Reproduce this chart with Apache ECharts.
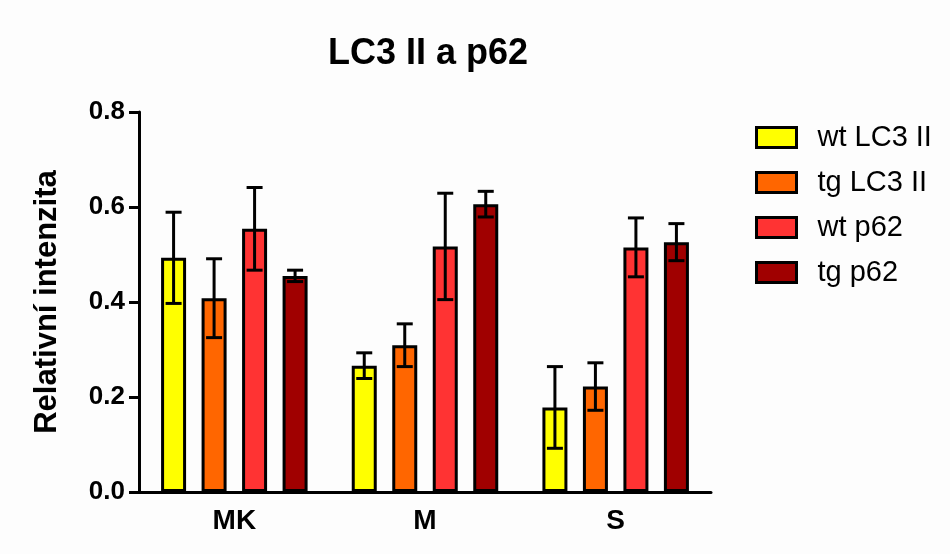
<!DOCTYPE html>
<html>
<head>
<meta charset="utf-8">
<script src="https://cdn.jsdelivr.net/npm/echarts@6/dist/echarts.min.js"></script>
<style>
  html, body { margin: 0; padding: 0; background: #fdfdfd; }
  #chart { width: 950px; height: 554px; }
</style>
</head>
<body>
<div id="chart"></div>
<script>
// data
const categories = ['MK', 'M', 'S'];
const seriesNames = ['wt LC3 II', 'tg LC3 II', 'wt p62', 'tg p62'];
const wtLC3 = [0.493, 0.266, 0.178];
const tgLC3 = [0.408, 0.309, 0.222];
const wtP62 = [0.554, 0.517, 0.515];
const tgP62 = [0.455, 0.606, 0.526];
// error bars (± SEM)
const wtLC3Err = [0.096, 0.027, 0.086];
const tgLC3Err = [0.083, 0.045, 0.050];
const wtP62Err = [0.087, 0.112, 0.062];
const tgP62Err = [0.012, 0.027, 0.039];
const yTicks = [0, 0.2, 0.4, 0.6, 0.8];

const means = [wtLC3, tgLC3, wtP62, tgP62];
const errs = [wtLC3Err, tgLC3Err, wtP62Err, tgP62Err];
const colors = ['#ffff00', '#ff6600', '#ff3333', '#a00000'];

const font = 'Arial, "Liberation Sans", Helvetica, sans-serif';
const barW = 25;      // inner width, border adds 3
const barStep = 40.5; // centre to centre inside a group
const capHalf = 8;

let seriesA = [];
for (let i = 0; i < 4; i++) {
  seriesA.push({
    name: seriesNames[i],
    type: 'bar',
    barWidth: barW,
    barGap: ((barStep - barW) / barW * 100) + '%',
    itemStyle: {
      color: colors[i],
      borderColor: '#000',
      borderWidth: 3
    },
    data: means[i]
  });
}
// error bars drawn on top of each bar
for (let i = 0; i < 4; i++) {
  const offset = (i - 1.5) * barStep;
  seriesA.push({
    name: 'err' + i,
    type: 'custom',
    z: 10,
    silent: true,
    data: categories.map((c, k) => [k, means[i][k] - errs[i][k], means[i][k] + errs[i][k]]),
    renderItem: function (params, api) {
      const lo = api.coord([api.value(0), api.value(1)]);
      const hi = api.coord([api.value(0), api.value(2)]);
      const x = lo[0] + offset;
      const style = { stroke: '#000', lineWidth: 3, fill: null };
      return {
        type: 'group',
        children: [
          { type: 'line', shape: { x1: x, y1: lo[1], x2: x, y2: hi[1] }, style: style },
          { type: 'line', shape: { x1: x - capHalf, y1: lo[1], x2: x + capHalf, y2: lo[1] }, style: style },
          { type: 'line', shape: { x1: x - capHalf, y1: hi[1], x2: x + capHalf, y2: hi[1] }, style: style }
        ]
      };
    }
  });
}

let option = {
  backgroundColor: '#fdfdfd',
  animation: false,
  title: {
    text: 'LC3 II a p62',
    left: 423,
    top: 31,
    textAlign: 'center',
    textStyle: { fontFamily: font, fontSize: 36, fontWeight: 'bold', color: '#000' }
  },
  legend: {
    data: seriesNames,
    orient: 'vertical',
    left: 750,
    top: 118,
    itemWidth: 40,
    itemHeight: 20,
    itemGap: 16,
    icon: 'rect',
    itemStyle: { borderColor: '#000', borderWidth: 3 },
    textStyle: { fontFamily: font, fontSize: 29, color: '#000', padding: [0, 0, 0, 16] }
  },
  grid: { left: 139, right: 239, top: 112, bottom: 62 },
  xAxis: {
    type: 'category',
    data: categories,
    axisLine: { lineStyle: { color: '#000', width: 3 } },
    axisTick: { alignWithLabel: true, length: 9, lineStyle: { color: '#000', width: 3 } },
    axisLabel: { fontFamily: font, fontSize: 28, fontWeight: 'bold', color: '#000', margin: 15 }
  },
  yAxis: {
    type: 'value',
    min: yTicks[0],
    max: yTicks[yTicks.length - 1],
    interval: 0.2,
    name: 'Relativní intenzita',
    nameLocation: 'middle',
    nameGap: 76,
    nameTextStyle: { fontFamily: font, fontSize: 31, fontWeight: 'bold', color: '#000' },
    axisLine: { show: true, lineStyle: { color: '#000', width: 3 } },
    axisTick: { show: true, length: 10, lineStyle: { color: '#000', width: 3 } },
    splitLine: { show: false },
    axisLabel: {
      fontFamily: font, fontSize: 26, fontWeight: 'bold', color: '#000', margin: 14,
      formatter: v => v.toFixed(1)
    }
  },
  series: seriesA
};

const chart = echarts.init(document.getElementById('chart'));
chart.setOption(option);
</script>
</body>
</html>
